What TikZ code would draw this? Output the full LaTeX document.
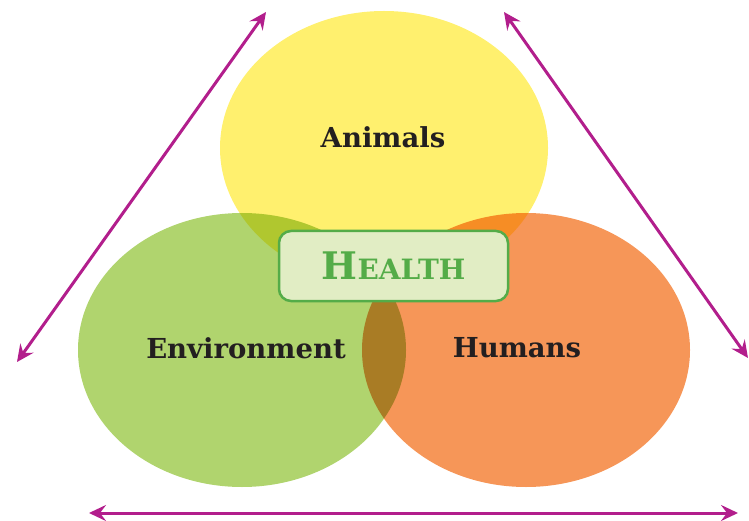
\documentclass[tikz,border=0pt]{standalone}
\usepackage{fontspec}
\setmainfont{DejaVu Serif}
\usepackage{tikz}
\usetikzlibrary{shapes.geometric,arrows.meta}

\definecolor{animalyellow}{RGB}{255,240,110}
\definecolor{envgreen}{RGB}{176,212,110}
\definecolor{humanorange}{RGB}{246,150,88}
\definecolor{healthgreen}{RGB}{84,172,72}
\definecolor{healthfill}{RGB}{225,237,196}
\definecolor{linkpink}{RGB}{178,30,140}
\definecolor{labeldark}{RGB}{35,31,32}

\begin{document}
\begin{tikzpicture}[x=1pt, y=1pt,
        circ/.style={ellipse, minimum width=328pt, minimum height=274pt, inner sep=0pt},
        tag/.style={font=\fontsize{27.5}{27.5}\selectfont\bfseries, text=labeldark},
        link/.style={linkpink, line width=3pt, {Stealth[length=17pt,width=16pt,inset=6pt]}-{Stealth[length=17pt,width=16pt,inset=6pt]}}]
        \useasboundingbox (0,0) rectangle (749,520);
        \begin{scope}[blend group=multiply]
          \node [circ, fill=animalyellow] (animals) at (384,372) {};
          \node [circ, fill=envgreen] (environment) at (242,170) {};
          \node [circ, fill=humanorange] (humans) at (526,170) {};
        \end{scope}
        \node [tag] (animals text) at (383,383) {Animals};
        \node [tag] (environment text) at (246,172) {Environment};
        \node [tag] (humans text) at (517,172) {Humans};
        \node [draw=healthgreen, line width=2.5pt, fill=healthfill, rounded corners=12pt,
          minimum width=229pt, minimum height=70pt, text=healthgreen] (health) at (393.5,254)
          {\bfseries{\fontsize{38}{38}\selectfont H}{\fontsize{28}{28}\selectfont EALTH}};
        \coordinate (lefttop) at (266,508);
        \coordinate (leftbottom) at (17,158);
        \coordinate (righttop) at (504,508);
        \coordinate (rightbottom) at (748,162);
        \coordinate (baseleft) at (89,7);
        \coordinate (baseright) at (738,7);
        \draw [link] (leftbottom) -- (lefttop);
        \draw [link] (righttop) -- (rightbottom);
        \draw [link] (baseleft) -- (baseright);
        \end{tikzpicture}
\end{document}
